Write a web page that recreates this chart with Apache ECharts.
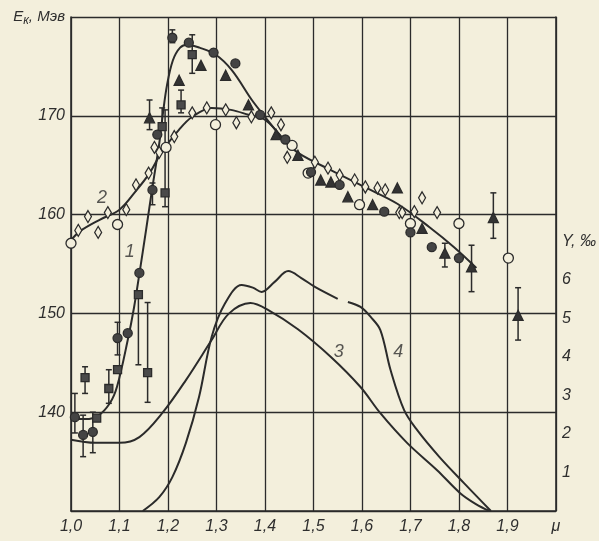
<!DOCTYPE html>
<html>
<head>
<meta charset="utf-8">
<script src="https://cdn.jsdelivr.net/npm/echarts@6/dist/echarts.min.js"></script>
<style>
  html, body { margin: 0; padding: 0; background: #f3efdc; }
  #chart { width: 599px; height: 541px; }
</style>
</head>
<body>
<div id="chart"></div>
<script>
// ---- data (mu, E in MeV) ----
const curve1 = [[1.0,139.3],[1.03,139.3],[1.055,139.6],[1.08,140.9],[1.095,142.6],[1.117,147.3],[1.13,150.6],[1.141,154.0],[1.155,158.5],[1.168,162.8],[1.182,167.2],[1.19,170.4],[1.198,173.1],[1.21,175.6],[1.225,176.9],[1.24,177.2],[1.265,176.9],[1.298,176.2],[1.332,174.6],[1.373,171.6],[1.40,169.9],[1.44,167.5],[1.47,166.2],[1.536,164.5],[1.605,162.8],[1.673,161.1],[1.74,158.7],[1.79,156.7],[1.836,154.6]]
const curve2 = [[1.0,157.4],[1.018,158.3],[1.06,159.5],[1.10,160.5],[1.134,162.4],[1.162,164.2],[1.188,166.4],[1.223,168.6],[1.25,169.9],[1.29,170.8],[1.33,170.6],[1.366,170.1],[1.40,169.6],[1.44,167.5]]
// curves 3 and 4 are read on the right axis (Y, per mille)
const curve3 = [[1.0,1.85],[1.05,1.77],[1.10,1.77],[1.141,1.92],[1.188,2.54],[1.237,3.40],[1.29,4.44],[1.325,5.12],[1.37,5.40],[1.407,5.22],[1.468,4.72],[1.536,4.0],[1.597,3.22],[1.638,2.54],[1.693,1.77],[1.755,1.06],[1.802,0.47],[1.835,0.18],[1.863,0.0]]
const curve4 = [[1.148,0],[1.182,0.36],[1.209,0.88],[1.237,1.77],[1.264,2.96],[1.29,4.52],[1.318,5.40],[1.352,5.87],[1.375,5.8],[1.393,5.69],[1.42,5.95],[1.448,6.23],[1.475,6.05],[1.503,5.82],[1.55,5.51],[1.56,'-'],[1.571,5.43],[1.597,5.30],[1.618,5.04],[1.638,4.70],[1.659,3.66],[1.687,2.62],[1.714,2.1],[1.76,1.40],[1.81,0.73],[1.866,0.0]]

const filledCircles = [[1.008,139.5],[1.025,137.7],[1.045,138.0],[1.096,147.5],[1.117,148.0],[1.141,154.1],[1.168,162.5],[1.178,168.1],[1.209,177.9],[1.243,177.4],[1.294,176.4],[1.339,175.3],[1.39,170.1],[1.442,167.6],[1.495,164.3],[1.554,163.0],[1.646,160.3],[1.70,158.2],[1.744,156.7],[1.80,155.6]]
const filledSquares = [[1.029,143.5],[1.053,139.4],[1.078,142.4],[1.096,144.3],[1.139,151.9],[1.158,144.0],[1.194,162.2],[1.188,168.9],[1.227,171.1],[1.25,176.2]]
const filledTriangles = [[1.162,169.8],[1.223,173.6],[1.268,175.1],[1.319,174.1],[1.366,171.1],[1.423,168.1],[1.468,166.0],[1.515,163.5],[1.536,163.3],[1.571,161.8],[1.622,161.0],[1.673,162.7],[1.724,158.6],[1.771,156.1],[1.826,154.7],[1.871,159.7],[1.922,149.8]]
const openCircles = [[1.0,157.1],[1.096,159.0],[1.196,166.8],[1.298,169.1],[1.456,167.0],[1.489,164.2],[1.595,161.0],[1.70,159.1],[1.80,159.1],[1.902,155.6]]
const diamonds = [[1.015,158.4],[1.035,159.8],[1.056,158.2],[1.076,160.2],[1.114,160.5],[1.134,163.0],[1.16,164.2],[1.172,166.8],[1.182,166.3],[1.213,167.9],[1.25,170.3],[1.28,170.8],[1.319,170.6],[1.341,169.3],[1.372,169.9],[1.413,170.3],[1.433,169.1],[1.446,165.8],[1.503,165.3],[1.53,164.7],[1.554,164.0],[1.585,163.5],[1.607,162.8],[1.632,162.7],[1.648,162.5],[1.677,160.2],[1.683,160.2],[1.708,160.3],[1.724,161.7],[1.755,160.2]]
// error bars: [mu, low, high]
const errorBars = [[1.008,137.9,141.9],[1.025,135.5,139.7],[1.045,135.9,140.0],[1.029,141.9,144.6],[1.078,140.9,144.3],[1.096,145.8,149.1],[1.139,144.8,152.1],[1.158,141.0,151.1],[1.168,161.0,163.2],[1.194,160.8,170.6],[1.162,168.6,171.6],[1.188,168.9,170.8],[1.227,170.3,172.6],[1.209,177.4,178.7],[1.25,174.3,178.2],[1.871,157.6,162.2],[1.771,154.7,157.1],[1.826,152.2,156.9],[1.922,147.3,152.6]]
// curve numbers: [mu, value, text, axis]
const curveNames = [[1.121,156.2,'1',0],[1.064,161.7,'2',0],[1.552,4.13,'3',1],[1.675,4.13,'4',1]]

const ink = '#2b2b2b'
const txt = '#2e2e2e'
const font = 'Liberation Sans'
const chart = echarts.init(document.getElementById('chart'))

const lineSeries = (data, axis) => ({
  type: 'line', data, yAxisIndex: axis, smooth: 0.35, showSymbol: false, symbol: 'none',
  lineStyle: { color: ink, width: 2 }, z: 3
})
const dots = (data, symbol, size, fill) => ({
  type: 'scatter', data, symbol, symbolSize: size,
  itemStyle: { color: fill, borderColor: ink, borderWidth: 1.3, opacity: 1 }, z: 5
})

const option = {
  backgroundColor: '#f3efdc',
  animation: false,
  grid: { left: 71, right: 39, top: 17, bottom: 30 },
  xAxis: {
    type: 'value', min: 1.0, max: 2.0, interval: 0.1,
    axisLine: { lineStyle: { color: ink, width: 1.6 } },
    axisTick: { show: false },
    splitLine: { show: true, lineStyle: { color: ink, width: 1.3 } },
    axisLabel: {
      color: txt, fontSize: 16, fontStyle: 'italic', fontFamily: font, margin: 8,
      formatter: v => v > 1.95 ? 'μ' : v.toFixed(1).replace('.', ',')
    }
  },
  yAxis: [
    {
      type: 'value', min: 130, max: 180, interval: 10,
      axisLine: { show: true, lineStyle: { color: ink, width: 1.6 } },
      axisTick: { show: false },
      splitLine: { show: true, lineStyle: { color: ink, width: 1.3 } },
      axisLabel: {
        color: txt, fontSize: 16, fontStyle: 'italic', fontFamily: font, margin: 6,
        formatter: v => v === 180 ? '{e|E}{k|к}{e|, Мэв}' : (v === 130 ? '' : String(v)),
        rich: {
          e: { fontSize: 15, fontStyle: 'italic', fontFamily: font, color: txt },
          k: { fontSize: 12, fontStyle: 'italic', fontFamily: font, color: txt, padding: [8, 0, 0, 0] }
        }
      }
    },
    {
      // right axis Y, per mille
      type: 'value', min: 0, max: 12.83, interval: 1, position: 'right',
      axisLine: { show: true, lineStyle: { color: ink, width: 1.6 } },
      axisTick: { show: false },
      splitLine: { show: false },
      axisLabel: {
        color: txt, fontSize: 16, fontStyle: 'italic', fontFamily: font, margin: 6,
        formatter: v => (v >= 1 && v <= 6) ? String(v) : (v === 7 ? 'Y, ‰' : '')
      }
    }
  ],
  series: [
    lineSeries(curve1, 0),
    lineSeries(curve2, 0),
    lineSeries(curve3, 1),
    lineSeries(curve4, 1),
    {
      type: 'custom', z: 4,
      renderItem: (params, api) => {
        const top = api.coord([api.value(0), api.value(2)])
        const bot = api.coord([api.value(0), api.value(1)])
        const st = { stroke: ink, lineWidth: 1.5 }
        return {
          type: 'group',
          children: [
            { type: 'line', shape: { x1: top[0], y1: top[1], x2: bot[0], y2: bot[1] }, style: st },
            { type: 'line', shape: { x1: top[0] - 3, y1: top[1], x2: top[0] + 3, y2: top[1] }, style: st },
            { type: 'line', shape: { x1: bot[0] - 3, y1: bot[1], x2: bot[0] + 3, y2: bot[1] }, style: st }
          ]
        }
      },
      data: errorBars
    },
    dots(diamonds, 'diamond', [7, 12], '#f3efdc'),
    dots(openCircles, 'circle', 10, '#f3efdc'),
    dots(filledSquares, 'rect', 8, '#4a4a4a'),
    dots(filledTriangles, 'triangle', 10, '#333'),
    dots(filledCircles, 'circle', 9, '#444'),
    {
      type: 'scatter', symbolSize: 0, z: 6,
      data: curveNames.filter(d => d[3] === 0).map(d => ({ value: [d[0], d[1]], name: d[2] })),
      label: { show: true, position: 'inside', formatter: p => p.name, color: txt, fontSize: 18, fontStyle: 'italic', fontFamily: font }
    },
    {
      type: 'scatter', symbolSize: 0, z: 6, yAxisIndex: 1,
      data: curveNames.filter(d => d[3] === 1).map(d => ({ value: [d[0], d[1]], name: d[2] })),
      label: { show: true, position: 'inside', formatter: p => p.name, color: txt, fontSize: 18, fontStyle: 'italic', fontFamily: font }
    }
  ]
}
chart.setOption(option)
</script>
</body>
</html>
